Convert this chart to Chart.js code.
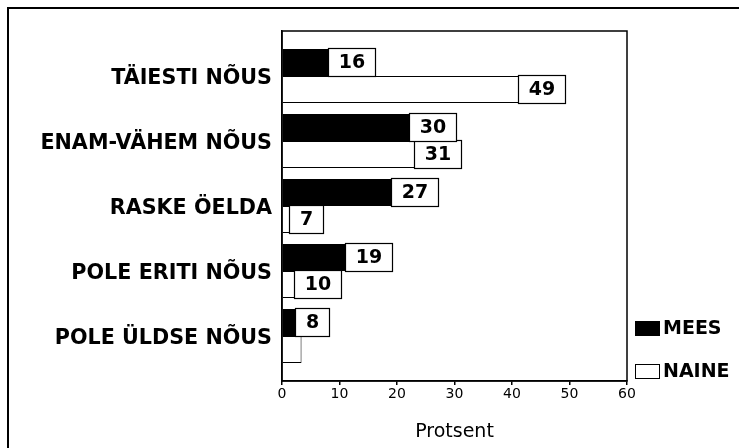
<!DOCTYPE html>
<html><head><meta charset="utf-8">
<script src="https://cdn.jsdelivr.net/npm/chart.js@4/dist/chart.umd.min.js"></script>
<style>html,body{margin:0;padding:0;background:#fff;overflow:hidden}#wrap{width:739px;height:448px;position:relative}</style>
</head><body><div id="wrap"><canvas id="c" width="739" height="448"></canvas></div>
<script>
const categories = ['TÄIESTI NÕUS', 'ENAM-VÄHEM NÕUS', 'RASKE ÖELDA', 'POLE ERITI NÕUS', 'POLE ÜLDSE NÕUS'];
const seriesNames = ['MEES', 'NAINE'];
const meesValues = [16, 30, 27, 19, 8];
const naineValues = [49, 31, 7, 10, 3.4];
const meesLabels = ['16', '30', '27', '19', '8'];
const naineLabels = ['49', '31', '7', '10', ''];
const xTicks = [0, 10, 20, 30, 40, 50, 60];
const axisTitle = 'Protsent';

const FONT = 'DejaVu Sans';
const toPoints = vals => vals.map((v, i) => ({ x: v, y: i }));
const valueLabels = [meesLabels, naineLabels];

const framePlugin = {
  id: 'frame',
  beforeDraw(chart) {
    const ctx = chart.ctx;
    ctx.save();
    ctx.fillStyle = '#fff';
    ctx.fillRect(0, 0, chart.width, chart.height);
    ctx.strokeStyle = '#000';
    ctx.lineWidth = 2;
    ctx.strokeRect(8, 8, chart.width + 20, chart.height + 20);
    ctx.restore();
  },
  afterDraw(chart) {
    const a = chart.chartArea, ctx = chart.ctx;
    ctx.save();
    ctx.strokeStyle = '#000';
    ctx.lineWidth = 1.5;
    ctx.strokeRect(a.left, a.top, a.right - a.left, a.bottom - a.top);
    ctx.restore();
  }
};

const labelPlugin = {
  id: 'boxLabels',
  afterDatasetsDraw(chart) {
    const ctx = chart.ctx;
    ctx.save();
    ctx.font = 'bold 19px "' + FONT + '"';
    ctx.textAlign = 'center';
    ctx.textBaseline = 'middle';
    [1, 0].forEach(di => {
      const meta = chart.getDatasetMeta(di);
      meta.data.forEach((el, i) => {
        const txt = valueLabels[di][i];
        if (!txt) return;
        const tw = ctx.measureText(txt).width;
        const w = Math.round(tw + 22);
        const h = Math.round(el.height + 2);
        const right = Math.round(el.x) + 2;
        const top = Math.round(el.y - h / 2);
        ctx.fillStyle = '#fff';
        ctx.fillRect(right - w, top, w, h);
        ctx.strokeStyle = '#000';
        ctx.lineWidth = 1.2;
        ctx.strokeRect(right - w + 0.5, top + 0.5, w - 1, h - 1);
        ctx.fillStyle = '#000';
        ctx.fillText(txt, right - w / 2, top + h / 2 + 1);
      });
    });
    ctx.restore();
  }
};

const legendPlugin = {
  id: 'customLegend',
  afterDraw(chart) {
    const a = chart.chartArea, ctx = chart.ctx;
    ctx.save();
    ctx.font = 'bold 19px "' + FONT + '"';
    ctx.textBaseline = 'middle';
    ctx.textAlign = 'left';
    const rows = [a.bottom - 60, a.bottom - 17];
    chart.data.datasets.forEach((ds, i) => {
      const x = a.right + 8, y = rows[i];
      ctx.fillStyle = ds.backgroundColor;
      ctx.fillRect(x, y, 25, 15);
      ctx.strokeStyle = '#000';
      ctx.lineWidth = 1;
      ctx.strokeRect(x + 0.5, y + 0.5, 24, 14);
      ctx.fillStyle = '#000';
      ctx.fillText(ds.label, x + 28, y + 8);
    });
    ctx.restore();
  }
};

new Chart(document.getElementById('c'), {
  type: 'bar',
  data: {
    datasets: [
      { label: seriesNames[0], data: toPoints(meesValues), backgroundColor: '#000', borderColor: '#000', borderWidth: 0 },
      { label: seriesNames[1], data: toPoints(naineValues), backgroundColor: '#fff', borderColor: '#000', borderWidth: 1 }
    ]
  },
  options: {
    indexAxis: 'y',
    responsive: false,
    animation: false,
    devicePixelRatio: 1,
    categoryPercentage: 0.83,
    barPercentage: 1,
    layout: { padding: { left: 0, right: 112, top: 31, bottom: 0 } },
    plugins: { legend: { display: false }, tooltip: { enabled: false } },
    scales: {
      y: {
        type: 'linear',
        reverse: true,
        offset: false,
        min: -0.692,
        max: categories.length - 1 + 0.692,
        afterFit(s) { s.width = 282; },
        grid: { display: false, drawTicks: false, offset: false },
        border: { display: true, color: '#000', width: 1.5 },
        ticks: {
          stepSize: 1,
          includeBounds: false,
          autoSkip: false,
          padding: 10,
          labelOffset: 3,
          color: '#000',
          font: { family: FONT, weight: 'bold', size: 20.7 },
          callback: v => (Number.isInteger(v) && categories[v] !== undefined) ? categories[v] : ''
        }
      },
      x: {
        type: 'linear',
        min: xTicks[0],
        max: xTicks[xTicks.length - 1],
        afterFit(s) { s.height = 67; },
        afterBuildTicks(s) { s.ticks = xTicks.map(v => ({ value: v })); },
        grid: { drawOnChartArea: false, drawTicks: true, tickLength: 4, color: '#000', lineWidth: 1.5 },
        border: { display: true, color: '#000', width: 1.5 },
        ticks: { padding: 1, color: '#000', font: { family: FONT, size: 14 } },
        title: { display: true, text: axisTitle, color: '#000', font: { family: FONT, size: 19 }, padding: { top: 0, bottom: 5 } }
      }
    }
  },
  plugins: [framePlugin, labelPlugin, legendPlugin]
});
</script>
</body></html>
